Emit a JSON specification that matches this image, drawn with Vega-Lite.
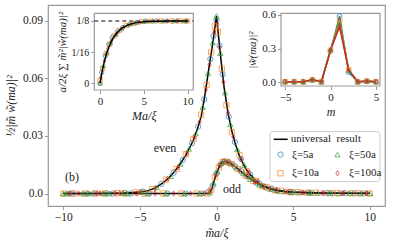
{
  "$schema": "https://vega.github.io/schema/vega-lite/v6.json",
  "width": 337,
  "height": 201,
  "autosize": {"type": "none"},
  "padding": {"left": 48, "top": 5, "right": 9, "bottom": 41},
  "config": {
    "view": {"stroke": "#999", "strokeWidth": 1.2},
    "font": "Liberation Serif, serif",
    "axis": {"grid": false, "domain": false, "tickColor": "#999", "tickSize": 3.5, "tickWidth": 1, "labelColor": "#222", "labelFont": "Liberation Serif, serif", "titleFont": "Liberation Serif, serif", "titleFontWeight": "normal", "titleColor": "#222", "labelFontSize": 11.5, "titleFontSize": 12},
    "legend": {"labelFont": "Liberation Serif, serif", "labelColor": "#222"}
  },
  "datasets": {
    "curves": [
      {"k":"even","x":-10,"y":0},{"k":"even","x":-9,"y":0.00002},{"k":"even","x":-8,"y":0.00005},{"k":"even","x":-7,"y":0.0001},{"k":"even","x":-6.5,"y":0.0002},{"k":"even","x":-6,"y":0.0003},{"k":"even","x":-5.5,"y":0.0005},{"k":"even","x":-5,"y":0.0008},{"k":"even","x":-4.5,"y":0.0014},{"k":"even","x":-4,"y":0.0028},{"k":"even","x":-3.5,"y":0.0055},{"k":"even","x":-3,"y":0.009},{"k":"even","x":-2.5,"y":0.0138},{"k":"even","x":-2,"y":0.02},{"k":"even","x":-1.75,"y":0.0238},{"k":"even","x":-1.5,"y":0.028},{"k":"even","x":-1.25,"y":0.0335},{"k":"even","x":-1,"y":0.04},{"k":"even","x":-0.75,"y":0.0515},{"k":"even","x":-0.5,"y":0.065},{"k":"even","x":-0.25,"y":0.078},{"k":"even","x":0,"y":0.0924},{"k":"even","x":0.15,"y":0.0805},{"k":"even","x":0.3,"y":0.069},{"k":"even","x":0.5,"y":0.055},{"k":"even","x":0.75,"y":0.042},{"k":"even","x":1,"y":0.0325},{"k":"even","x":1.25,"y":0.0252},{"k":"even","x":1.5,"y":0.0195},{"k":"even","x":1.75,"y":0.0153},{"k":"even","x":2,"y":0.0118},{"k":"even","x":2.5,"y":0.007},{"k":"even","x":3,"y":0.0042},{"k":"even","x":3.5,"y":0.0026},{"k":"even","x":4,"y":0.0017},{"k":"even","x":4.5,"y":0.0011},{"k":"even","x":5,"y":0.0008},{"k":"even","x":6,"y":0.0005},{"k":"even","x":7,"y":0.0003},{"k":"even","x":8,"y":0.0002},{"k":"even","x":9,"y":0.00015},{"k":"even","x":10,"y":0.0001},
      {"k":"odd","x":-10,"y":0},{"k":"odd","x":-6,"y":0},{"k":"odd","x":-2,"y":0},{"k":"odd","x":-1,"y":0},{"k":"odd","x":-0.6,"y":0},{"k":"odd","x":-0.45,"y":0.0005},{"k":"odd","x":-0.3,"y":0.0025},{"k":"odd","x":-0.15,"y":0.0068},{"k":"odd","x":0,"y":0.0105},{"k":"odd","x":0.15,"y":0.0135},{"k":"odd","x":0.3,"y":0.0157},{"k":"odd","x":0.45,"y":0.0166},{"k":"odd","x":0.6,"y":0.0167},{"k":"odd","x":0.8,"y":0.0162},{"k":"odd","x":1,"y":0.0153},{"k":"odd","x":1.25,"y":0.0138},{"k":"odd","x":1.5,"y":0.0121},{"k":"odd","x":1.75,"y":0.0105},{"k":"odd","x":2,"y":0.0089},{"k":"odd","x":2.5,"y":0.006},{"k":"odd","x":3,"y":0.0038},{"k":"odd","x":3.5,"y":0.0024},{"k":"odd","x":4,"y":0.0014},{"k":"odd","x":4.5,"y":0.0009},{"k":"odd","x":5,"y":0.0006},{"k":"odd","x":6,"y":0.0003},{"k":"odd","x":7,"y":0.0002},{"k":"odd","x":8,"y":0.0001},{"k":"odd","x":10,"y":0}
    ],
    "marks": [
      {"s":"ξ=5a","x":-9.6,"y":0},{"s":"ξ=5a","x":-8.4,"y":0},{"s":"ξ=5a","x":-7.2,"y":0.0001},{"s":"ξ=5a","x":-6.0,"y":0.0003},{"s":"ξ=5a","x":-4.8,"y":0.001},{"s":"ξ=5a","x":-3.6,"y":0.005},{"s":"ξ=5a","x":-2.8,"y":0.0108},{"s":"ξ=5a","x":-2.2,"y":0.0175},{"s":"ξ=5a","x":-1.6,"y":0.0262},{"s":"ξ=5a","x":-1.2,"y":0.0348},{"s":"ξ=5a","x":-0.8,"y":0.049},{"s":"ξ=5a","x":-0.4,"y":0.07},{"s":"ξ=5a","x":-0.2,"y":0.082},{"s":"ξ=5a","x":0,"y":0.09},{"s":"ξ=5a","x":0.2,"y":0.077},{"s":"ξ=5a","x":0.4,"y":0.062},{"s":"ξ=5a","x":0.8,"y":0.04},{"s":"ξ=5a","x":1.2,"y":0.0268},{"s":"ξ=5a","x":1.6,"y":0.018},{"s":"ξ=5a","x":2.2,"y":0.0098},{"s":"ξ=5a","x":2.8,"y":0.0052},{"s":"ξ=5a","x":3.6,"y":0.0025},{"s":"ξ=5a","x":4.8,"y":0.0009},{"s":"ξ=5a","x":6.0,"y":0.0005},{"s":"ξ=5a","x":7.2,"y":0.0003},{"s":"ξ=5a","x":8.4,"y":0.0002},{"s":"ξ=5a","x":9.6,"y":0.0001},
      {"s":"ξ=5a","x":-9.4,"y":0},{"s":"ξ=5a","x":-8.0,"y":0},{"s":"ξ=5a","x":-6.8,"y":0},{"s":"ξ=5a","x":-5.6,"y":0},{"s":"ξ=5a","x":-4.4,"y":0},{"s":"ξ=5a","x":-3.2,"y":0},{"s":"ξ=5a","x":-2.0,"y":0},{"s":"ξ=5a","x":-1.0,"y":0},{"s":"ξ=5a","x":-0.5,"y":0.001},{"s":"ξ=5a","x":-0.25,"y":0.004},{"s":"ξ=5a","x":0,"y":0.0105},{"s":"ξ=5a","x":0.25,"y":0.015},{"s":"ξ=5a","x":0.5,"y":0.0168},{"s":"ξ=5a","x":0.8,"y":0.0162},{"s":"ξ=5a","x":1.2,"y":0.0142},{"s":"ξ=5a","x":1.6,"y":0.0116},{"s":"ξ=5a","x":2.0,"y":0.0089},{"s":"ξ=5a","x":2.6,"y":0.0056},{"s":"ξ=5a","x":3.2,"y":0.0033},{"s":"ξ=5a","x":4.0,"y":0.0014},{"s":"ξ=5a","x":5.0,"y":0.0006},{"s":"ξ=5a","x":6.2,"y":0.0003},{"s":"ξ=5a","x":7.6,"y":0.0001},{"s":"ξ=5a","x":9.0,"y":0.0001},
      {"s":"ξ=10a","x":-9.3,"y":0},{"s":"ξ=10a","x":-7.9,"y":0},{"s":"ξ=10a","x":-6.5,"y":0.0002},{"s":"ξ=10a","x":-5.3,"y":0.0006},{"s":"ξ=10a","x":-4.2,"y":0.0022},{"s":"ξ=10a","x":-3.3,"y":0.0072},{"s":"ξ=10a","x":-2.6,"y":0.0128},{"s":"ξ=10a","x":-2.0,"y":0.0205},{"s":"ξ=10a","x":-1.5,"y":0.0285},{"s":"ξ=10a","x":-1.0,"y":0.041},{"s":"ξ=10a","x":-0.65,"y":0.0565},{"s":"ξ=10a","x":-0.35,"y":0.0735},{"s":"ξ=10a","x":-0.1,"y":0.087},{"s":"ξ=10a","x":0.1,"y":0.084},{"s":"ξ=10a","x":0.35,"y":0.065},{"s":"ξ=10a","x":0.65,"y":0.046},{"s":"ξ=10a","x":1.0,"y":0.032},{"s":"ξ=10a","x":1.5,"y":0.02},{"s":"ξ=10a","x":2.0,"y":0.0115},{"s":"ξ=10a","x":2.6,"y":0.0065},{"s":"ξ=10a","x":3.3,"y":0.0032},{"s":"ξ=10a","x":4.2,"y":0.0014},{"s":"ξ=10a","x":5.3,"y":0.0007},{"s":"ξ=10a","x":6.5,"y":0.0004},{"s":"ξ=10a","x":7.9,"y":0.0002},{"s":"ξ=10a","x":9.3,"y":0.0001},
      {"s":"ξ=10a","x":-10,"y":0},{"s":"ξ=10a","x":-8.6,"y":0},{"s":"ξ=10a","x":-7.3,"y":0},{"s":"ξ=10a","x":-6.0,"y":0},{"s":"ξ=10a","x":-4.7,"y":0},{"s":"ξ=10a","x":-3.5,"y":0},{"s":"ξ=10a","x":-2.3,"y":0},{"s":"ξ=10a","x":-1.3,"y":0},{"s":"ξ=10a","x":-0.6,"y":0},{"s":"ξ=10a","x":-0.35,"y":0.0018},{"s":"ξ=10a","x":-0.1,"y":0.0085},{"s":"ξ=10a","x":0.15,"y":0.0135},{"s":"ξ=10a","x":0.4,"y":0.0163},{"s":"ξ=10a","x":0.7,"y":0.0165},{"s":"ξ=10a","x":1.0,"y":0.0153},{"s":"ξ=10a","x":1.4,"y":0.0128},{"s":"ξ=10a","x":1.9,"y":0.0094},{"s":"ξ=10a","x":2.4,"y":0.0065},{"s":"ξ=10a","x":3.0,"y":0.0038},{"s":"ξ=10a","x":3.8,"y":0.0017},{"s":"ξ=10a","x":4.8,"y":0.0007},{"s":"ξ=10a","x":6.0,"y":0.0003},{"s":"ξ=10a","x":7.4,"y":0.0002},{"s":"ξ=10a","x":8.8,"y":0.0001},{"s":"ξ=10a","x":10,"y":0},
      {"s":"ξ=50a","x":-10,"y":0},{"s":"ξ=50a","x":-8.7,"y":0},{"s":"ξ=50a","x":-7.4,"y":0.0001},{"s":"ξ=50a","x":-6.1,"y":0.0003},{"s":"ξ=50a","x":-4.9,"y":0.0009},{"s":"ξ=50a","x":-3.9,"y":0.0032},{"s":"ξ=50a","x":-3.0,"y":0.009},{"s":"ξ=50a","x":-2.35,"y":0.0155},{"s":"ξ=50a","x":-1.8,"y":0.0232},{"s":"ξ=50a","x":-1.35,"y":0.0312},{"s":"ξ=50a","x":-0.9,"y":0.045},{"s":"ξ=50a","x":-0.55,"y":0.0625},{"s":"ξ=50a","x":-0.25,"y":0.0785},{"s":"ξ=50a","x":0,"y":0.0924},{"s":"ξ=50a","x":0.25,"y":0.073},{"s":"ξ=50a","x":0.55,"y":0.0525},{"s":"ξ=50a","x":0.9,"y":0.036},{"s":"ξ=50a","x":1.35,"y":0.023},{"s":"ξ=50a","x":1.8,"y":0.0148},{"s":"ξ=50a","x":2.35,"y":0.0082},{"s":"ξ=50a","x":3.0,"y":0.0042},{"s":"ξ=50a","x":3.9,"y":0.0018},{"s":"ξ=50a","x":4.9,"y":0.0008},{"s":"ξ=50a","x":6.1,"y":0.0005},{"s":"ξ=50a","x":7.4,"y":0.0003},{"s":"ξ=50a","x":8.7,"y":0.0002},{"s":"ξ=50a","x":10,"y":0.0001},
      {"s":"ξ=50a","x":-9.8,"y":0},{"s":"ξ=50a","x":-8.3,"y":0},{"s":"ξ=50a","x":-7.0,"y":0},{"s":"ξ=50a","x":-5.8,"y":0},{"s":"ξ=50a","x":-4.5,"y":0},{"s":"ξ=50a","x":-3.3,"y":0},{"s":"ξ=50a","x":-2.1,"y":0},{"s":"ξ=50a","x":-1.1,"y":0},{"s":"ξ=50a","x":-0.45,"y":0.0005},{"s":"ξ=50a","x":-0.2,"y":0.0055},{"s":"ξ=50a","x":0.05,"y":0.0115},{"s":"ξ=50a","x":0.3,"y":0.0157},{"s":"ξ=50a","x":0.55,"y":0.0167},{"s":"ξ=50a","x":0.9,"y":0.0158},{"s":"ξ=50a","x":1.3,"y":0.0135},{"s":"ξ=50a","x":1.75,"y":0.0105},{"s":"ξ=50a","x":2.2,"y":0.0075},{"s":"ξ=50a","x":2.8,"y":0.0045},{"s":"ξ=50a","x":3.5,"y":0.0024},{"s":"ξ=50a","x":4.4,"y":0.001},{"s":"ξ=50a","x":5.4,"y":0.0005},{"s":"ξ=50a","x":6.6,"y":0.0003},{"s":"ξ=50a","x":8.0,"y":0.0001},{"s":"ξ=50a","x":9.4,"y":0.0001},
      {"s":"ξ=100a","x":-9.0,"y":0},{"s":"ξ=100a","x":-7.6,"y":0.0001},{"s":"ξ=100a","x":-6.3,"y":0.0002},{"s":"ξ=100a","x":-5.0,"y":0.0008},{"s":"ξ=100a","x":-4.0,"y":0.0028},{"s":"ξ=100a","x":-3.2,"y":0.0076},{"s":"ξ=100a","x":-2.5,"y":0.0138},{"s":"ξ=100a","x":-1.95,"y":0.0207},{"s":"ξ=100a","x":-1.45,"y":0.0292},{"s":"ξ=100a","x":-1.1,"y":0.0372},{"s":"ξ=100a","x":-0.7,"y":0.054},{"s":"ξ=100a","x":-0.45,"y":0.067},{"s":"ξ=100a","x":-0.15,"y":0.084},{"s":"ξ=100a","x":0.05,"y":0.088},{"s":"ξ=100a","x":0.2,"y":0.076},{"s":"ξ=100a","x":0.45,"y":0.058},{"s":"ξ=100a","x":0.75,"y":0.042},{"s":"ξ=100a","x":1.1,"y":0.0295},{"s":"ξ=100a","x":1.6,"y":0.0178},{"s":"ξ=100a","x":2.1,"y":0.011},{"s":"ξ=100a","x":2.7,"y":0.0062},{"s":"ξ=100a","x":3.5,"y":0.0026},{"s":"ξ=100a","x":4.5,"y":0.0011},{"s":"ξ=100a","x":5.6,"y":0.0006},{"s":"ξ=100a","x":6.9,"y":0.0003},{"s":"ξ=100a","x":8.3,"y":0.0002},{"s":"ξ=100a","x":9.8,"y":0.0001},
      {"s":"ξ=100a","x":-9.6,"y":0},{"s":"ξ=100a","x":-7.8,"y":0},{"s":"ξ=100a","x":-6.6,"y":0},{"s":"ξ=100a","x":-5.2,"y":0},{"s":"ξ=100a","x":-4.0,"y":0},{"s":"ξ=100a","x":-2.8,"y":0},{"s":"ξ=100a","x":-1.7,"y":0},{"s":"ξ=100a","x":-0.8,"y":0},{"s":"ξ=100a","x":-0.38,"y":0.0015},{"s":"ξ=100a","x":-0.05,"y":0.0095},{"s":"ξ=100a","x":0.2,"y":0.0145},{"s":"ξ=100a","x":0.45,"y":0.0166},{"s":"ξ=100a","x":0.75,"y":0.0163},{"s":"ξ=100a","x":1.05,"y":0.015},{"s":"ξ=100a","x":1.5,"y":0.0121},{"s":"ξ=100a","x":2.0,"y":0.0089},{"s":"ξ=100a","x":2.5,"y":0.006},{"s":"ξ=100a","x":3.1,"y":0.0035},{"s":"ξ=100a","x":3.9,"y":0.0016},{"s":"ξ=100a","x":4.7,"y":0.0008},{"s":"ξ=100a","x":5.7,"y":0.0004},{"s":"ξ=100a","x":7.0,"y":0.0002},{"s":"ξ=100a","x":8.2,"y":0.0001},{"s":"ξ=100a","x":9.8,"y":0.0001}
    ],
    "lg": [{"x0": 3.49, "x1": 10.67, "y0": 0.0062, "y1": 0.0322}],
    "texts": [{"x": -3.36, "y": 0.0239, "t": "even"}, {"x": -9.43, "y": 0.0088, "t": "(b)"}, {"x": 1.01, "y": 0.0021, "t": "odd"}],
    "f1": [{"x0": -0.65, "x1": 10.65, "y0": -0.0134, "y1": 0.1404}],
    "h1": [{"x0": -0.65, "x1": 10.65, "y": 0.125}],
    "i1c": [{"x":0,"y":0},{"x":0.25,"y":0.0245},{"x":0.5,"y":0.044},{"x":0.75,"y":0.0599},{"x":1,"y":0.0725},{"x":1.5,"y":0.0912},{"x":2,"y":0.1025},{"x":2.5,"y":0.1107},{"x":3,"y":0.1158},{"x":3.5,"y":0.119},{"x":4,"y":0.1212},{"x":5,"y":0.1234},{"x":6,"y":0.1243},{"x":7,"y":0.1247},{"x":8,"y":0.1249},{"x":10,"y":0.125}],
    "i1m": [
      {"s":"ξ=5a","x":0,"y":0},{"s":"ξ=5a","x":0.2,"y":0.022},{"s":"ξ=5a","x":0.6,"y":0.055},{"s":"ξ=5a","x":1.0,"y":0.078},{"s":"ξ=5a","x":1.4,"y":0.092},{"s":"ξ=5a","x":2.0,"y":0.104},{"s":"ξ=5a","x":2.6,"y":0.112},{"s":"ξ=5a","x":3.4,"y":0.119},{"s":"ξ=5a","x":4.2,"y":0.122},{"s":"ξ=5a","x":5.2,"y":0.125},{"s":"ξ=5a","x":6.4,"y":0.125},{"s":"ξ=5a","x":7.6,"y":0.125},{"s":"ξ=5a","x":8.8,"y":0.125},{"s":"ξ=5a","x":9.8,"y":0.125},
      {"s":"ξ=10a","x":0,"y":0.005},{"s":"ξ=10a","x":0.3,"y":0.03},{"s":"ξ=10a","x":0.7,"y":0.06},{"s":"ξ=10a","x":1.1,"y":0.078},{"s":"ξ=10a","x":1.6,"y":0.095},{"s":"ξ=10a","x":2.2,"y":0.106},{"s":"ξ=10a","x":3.0,"y":0.116},{"s":"ξ=10a","x":3.8,"y":0.12},{"s":"ξ=10a","x":4.8,"y":0.124},{"s":"ξ=10a","x":5.9,"y":0.125},{"s":"ξ=10a","x":7.0,"y":0.125},{"s":"ξ=10a","x":8.2,"y":0.125},{"s":"ξ=10a","x":9.2,"y":0.125},{"s":"ξ=10a","x":10,"y":0.125},
      {"s":"ξ=50a","x":0,"y":0},{"s":"ξ=50a","x":0.4,"y":0.035},{"s":"ξ=50a","x":0.8,"y":0.062},{"s":"ξ=50a","x":1.2,"y":0.082},{"s":"ξ=50a","x":1.8,"y":0.098},{"s":"ξ=50a","x":2.4,"y":0.109},{"s":"ξ=50a","x":3.2,"y":0.117},{"s":"ξ=50a","x":4.0,"y":0.121},{"s":"ξ=50a","x":5.0,"y":0.124},{"s":"ξ=50a","x":6.0,"y":0.125},{"s":"ξ=50a","x":7.2,"y":0.125},{"s":"ξ=50a","x":8.4,"y":0.125},{"s":"ξ=50a","x":9.6,"y":0.125},
      {"s":"ξ=100a","x":0.1,"y":0.012},{"s":"ξ=100a","x":0.5,"y":0.045},{"s":"ξ=100a","x":0.9,"y":0.07},{"s":"ξ=100a","x":1.3,"y":0.085},{"s":"ξ=100a","x":1.9,"y":0.1},{"s":"ξ=100a","x":2.7,"y":0.112},{"s":"ξ=100a","x":3.6,"y":0.119},{"s":"ξ=100a","x":4.5,"y":0.122},{"s":"ξ=100a","x":5.5,"y":0.124},{"s":"ξ=100a","x":6.6,"y":0.125},{"s":"ξ=100a","x":7.7,"y":0.125},{"s":"ξ=100a","x":8.8,"y":0.125},{"s":"ξ=100a","x":9.9,"y":0.125}
    ],
    "f2": [{"x0": -5.45, "x1": 5.45, "y0": -0.033, "y1": 0.615}],
    "i2": [
      {"s":"ξ=5a","m":-5,"v":0.005},{"s":"ξ=5a","m":-4,"v":0.005},{"s":"ξ=5a","m":-3,"v":0.005},{"s":"ξ=5a","m":-2,"v":0.02},{"s":"ξ=5a","m":-1,"v":0.005},{"s":"ξ=5a","m":0,"v":0.28},{"s":"ξ=5a","m":1,"v":0.59},{"s":"ξ=5a","m":2,"v":0.09},{"s":"ξ=5a","m":3,"v":0.005},{"s":"ξ=5a","m":4,"v":0.01},{"s":"ξ=5a","m":5,"v":0.005},
      {"s":"ξ=10a","m":-5,"v":0.005},{"s":"ξ=10a","m":-4,"v":0.005},{"s":"ξ=10a","m":-3,"v":0.005},{"s":"ξ=10a","m":-2,"v":0.02},{"s":"ξ=10a","m":-1,"v":0.005},{"s":"ξ=10a","m":0,"v":0.285},{"s":"ξ=10a","m":1,"v":0.555},{"s":"ξ=10a","m":2,"v":0.11},{"s":"ξ=10a","m":3,"v":0.005},{"s":"ξ=10a","m":4,"v":0.01},{"s":"ξ=10a","m":5,"v":0.005},
      {"s":"ξ=50a","m":-5,"v":0.005},{"s":"ξ=50a","m":-4,"v":0.005},{"s":"ξ=50a","m":-3,"v":0.005},{"s":"ξ=50a","m":-2,"v":0.022},{"s":"ξ=50a","m":-1,"v":0.005},{"s":"ξ=50a","m":0,"v":0.29},{"s":"ξ=50a","m":1,"v":0.52},{"s":"ξ=50a","m":2,"v":0.105},{"s":"ξ=50a","m":3,"v":0.005},{"s":"ξ=50a","m":4,"v":0.01},{"s":"ξ=50a","m":5,"v":0.005},
      {"s":"ξ=100a","m":-5,"v":0.005},{"s":"ξ=100a","m":-4,"v":0.005},{"s":"ξ=100a","m":-3,"v":0.005},{"s":"ξ=100a","m":-2,"v":0.025},{"s":"ξ=100a","m":-1,"v":0.005},{"s":"ξ=100a","m":0,"v":0.285},{"s":"ξ=100a","m":1,"v":0.495},{"s":"ξ=100a","m":2,"v":0.11},{"s":"ξ=100a","m":3,"v":0.005},{"s":"ξ=100a","m":4,"v":0.01},{"s":"ξ=100a","m":5,"v":0.005}
    ]
  },
  "layer": [
    {
      "layer": [
        {
          "data": {"name": "curves"},
          "mark": {"type": "line", "strokeWidth": 1.5},
          "encoding": {
            "x": {"field": "x", "type": "quantitative", "scale": {"domain": [-11, 11], "nice": false, "zero": false}, "axis": {"values": [-10, -5, 0, 5, 10], "title": "m̃a/ξ", "titleFontStyle": "italic"}},
            "y": {"field": "y", "type": "quantitative", "scale": {"domain": [-0.0065, 0.0981], "nice": false, "zero": false}, "axis": {"values": [0, 0.03, 0.06, 0.09], "labelExpr": "datum.value == 0 ? '0.0' : format(datum.value, '.2f')", "title": "½|m̃ w̃(ma)|²", "titleFontStyle": "italic", "titlePadding": 5}},
            "detail": {"field": "k"},
            "stroke": {"datum": "universal\u00a0 result", "type": "nominal", "scale": {"range": ["black"]}, "legend": {"orient": "none", "legendX": 224.7, "legendY": 126.3, "symbolType": "stroke", "symbolSize": 196, "symbolStrokeWidth": 1.5, "labelFontSize": 11, "labelOffset": 2, "title": null, "padding": 0}}
          }
        },
        {
          "data": {"name": "marks"},
          "mark": {"type": "point", "filled": false, "strokeWidth": 1, "size": 28},
          "encoding": {
            "x": {"field": "x", "type": "quantitative"},
            "y": {"field": "y", "type": "quantitative"},
            "color": {"field": "s", "type": "nominal", "scale": {"domain": ["ξ=5a", "ξ=10a", "ξ=50a", "ξ=100a"], "range": ["#1f77b4", "#ff7f0e", "#2ca02c", "#d62728"]}, "legend": {"orient": "none", "legendX": 227, "legendY": 143.8, "columns": 2, "columnPadding": 13, "rowPadding": 7, "labelFontSize": 11, "labelOffset": 6, "symbolStrokeWidth": 1, "symbolSize": 28, "title": null, "padding": 0}},
            "shape": {"field": "s", "type": "nominal", "scale": {"domain": ["ξ=5a", "ξ=10a", "ξ=50a", "ξ=100a"], "range": ["circle", "square", "triangle-up", "M0,-1L0.62,0L0,1L-0.62,0Z"]}}
          }
        },
        {
          "data": {"name": "lg"},
          "mark": {"type": "rect", "fill": "white", "fillOpacity": 0.8, "stroke": "#ccc", "strokeWidth": 1, "cornerRadius": 3},
          "encoding": {
            "x": {"field": "x0", "type": "quantitative"}, "x2": {"field": "x1"},
            "y": {"field": "y0", "type": "quantitative"}, "y2": {"field": "y1"}
          }
        },
        {
          "data": {"name": "texts"},
          "mark": {"type": "text", "fontSize": 12, "font": "Liberation Serif, serif", "color": "#222"},
          "encoding": {
            "x": {"field": "x", "type": "quantitative"},
            "y": {"field": "y", "type": "quantitative"},
            "text": {"field": "t"}
          }
        }
      ]
    },
    {
      "layer": [
        {
          "data": {"name": "f1"},
          "mark": {"type": "rect", "fill": "white", "stroke": "#999", "strokeWidth": 1.2},
          "encoding": {
            "x": {"field": "x0", "type": "quantitative", "scale": {"domain": [-0.65, 10.65], "range": [46.3, 145.3], "nice": false, "zero": false}, "axis": {"orient": "bottom", "offset": -116, "values": [0, 5, 10], "title": "Ma/ξ", "titleFontStyle": "italic", "labelFontSize": 11, "zindex": 1}},
            "x2": {"field": "x1"},
            "y": {"field": "y0", "type": "quantitative", "scale": {"domain": [-0.0134, 0.1404], "range": [85, 8.3], "nice": false, "zero": false}, "axis": {"orient": "left", "offset": -46.3, "values": [0, 0.0625, 0.125], "labelExpr": "datum.value == 0 ? '0' : (datum.value < 0.1 ? '1/16' : '1/8')", "title": "a/2ξ ∑ m̃²|w̃(ma)|²", "titleFontSize": 11, "titleFontStyle": "italic", "labelFontSize": 10, "zindex": 1}},
            "y2": {"field": "y1"}
          }
        },
        {
          "data": {"name": "h1"},
          "mark": {"type": "rule", "color": "black", "strokeDash": [4, 3], "strokeWidth": 1.2},
          "encoding": {
            "x": {"field": "x0", "type": "quantitative"}, "x2": {"field": "x1"},
            "y": {"field": "y", "type": "quantitative"}
          }
        },
        {
          "data": {"name": "i1m"},
          "mark": {"type": "point", "filled": false, "strokeWidth": 1, "size": 18},
          "encoding": {
            "x": {"field": "x", "type": "quantitative"},
            "y": {"field": "y", "type": "quantitative"},
            "color": {"field": "s", "type": "nominal"},
            "shape": {"field": "s", "type": "nominal"}
          }
        },
        {
          "data": {"name": "i1c"},
          "mark": {"type": "line", "color": "black", "strokeWidth": 1.5},
          "encoding": {
            "x": {"field": "x", "type": "quantitative"},
            "y": {"field": "y", "type": "quantitative"}
          }
        }
      ]
    },
    {
      "layer": [
        {
          "data": {"name": "f2"},
          "mark": {"type": "rect", "fill": "white", "stroke": "#999", "strokeWidth": 1.2},
          "encoding": {
            "x": {"field": "x0", "type": "quantitative", "scale": {"domain": [-5.45, 5.45], "range": [233, 332], "nice": false, "zero": false}, "axis": {"orient": "bottom", "offset": -120, "values": [-5, 0, 5], "title": "m", "titleFontStyle": "italic", "labelFontSize": 11, "zindex": 1}},
            "x2": {"field": "x1"},
            "y": {"field": "y0", "type": "quantitative", "scale": {"domain": [-0.033, 0.615], "range": [81, 8.3], "nice": false, "zero": false}, "axis": {"orient": "left", "offset": -233, "values": [0, 0.3, 0.6], "format": ".1f", "title": "|w̃(ma)|²", "titleFontStyle": "italic", "titleFontSize": 11, "labelFontSize": 11, "zindex": 1}},
            "y2": {"field": "y1"}
          }
        },
        {
          "data": {"name": "i2"},
          "mark": {"type": "line", "strokeWidth": 1.5},
          "encoding": {
            "x": {"field": "m", "type": "quantitative"},
            "y": {"field": "v", "type": "quantitative"},
            "color": {"field": "s", "type": "nominal"}
          }
        },
        {
          "data": {"name": "i2"},
          "mark": {"type": "point", "filled": false, "strokeWidth": 1, "size": 22},
          "encoding": {
            "x": {"field": "m", "type": "quantitative"},
            "y": {"field": "v", "type": "quantitative"},
            "color": {"field": "s", "type": "nominal"},
            "shape": {"field": "s", "type": "nominal"}
          }
        }
      ]
    }
  ],
  "resolve": {"scale": {"x": "independent", "y": "independent"}}
}
